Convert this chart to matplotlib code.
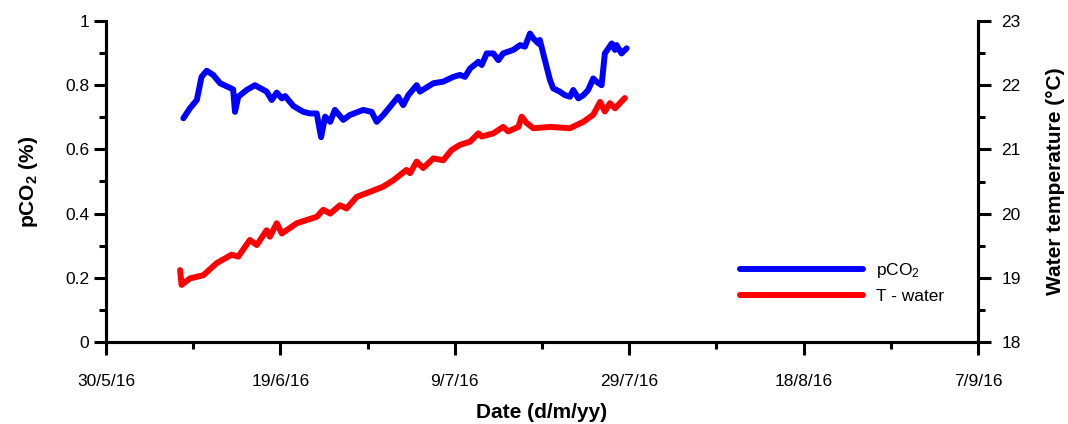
import matplotlib
matplotlib.use("Agg")
import matplotlib.pyplot as plt
import matplotlib.dates as mdates
from matplotlib.ticker import FuncFormatter, MultipleLocator
import pandas as pd

plt.rcParams['font.family'] = ['Liberation Sans', 'DejaVu Sans']
plt.rcParams['mathtext.default'] = 'regular'

# pCO2 (%) record
pco2_dates = [
    '2016-06-07 21:00', '2016-06-08 15:00', '2016-06-09 10:00', '2016-06-09 23:00',
    '2016-06-10 13:00', '2016-06-11 07:00', '2016-06-12 02:00', '2016-06-13 14:00',
    '2016-06-13 19:00', '2016-06-14 04:00', '2016-06-15 03:00', '2016-06-16 02:00',
    '2016-06-17 10:00', '2016-06-18 00:00', '2016-06-18 14:00', '2016-06-19 04:00',
    '2016-06-19 13:00', '2016-06-20 12:00', '2016-06-21 15:00', '2016-06-22 09:00',
    '2016-06-23 04:00', '2016-06-23 16:00', '2016-06-24 03:00', '2016-06-24 17:00',
    '2016-06-25 06:00', '2016-06-26 05:00', '2016-06-26 23:00', '2016-06-28 12:00',
    '2016-06-29 11:00', '2016-06-30 01:00', '2016-06-30 19:00', '2016-07-01 14:00',
    '2016-07-02 12:00', '2016-07-03 02:00', '2016-07-03 16:00', '2016-07-04 15:00',
    '2016-07-05 00:00', '2016-07-06 13:00', '2016-07-07 16:00', '2016-07-08 20:00',
    '2016-07-09 14:00', '2016-07-10 04:00', '2016-07-10 18:00', '2016-07-11 17:00',
    '2016-07-12 02:00', '2016-07-12 16:00', '2016-07-13 10:00', '2016-07-14 00:00',
    '2016-07-14 13:00', '2016-07-15 17:00', '2016-07-16 12:00', '2016-07-17 01:00',
    '2016-07-17 15:00', '2016-07-18 00:00', '2016-07-18 14:00', '2016-07-18 18:00',
    '2016-07-19 08:00', '2016-07-19 22:00', '2016-07-20 07:00', '2016-07-21 01:00',
    '2016-07-21 15:00', '2016-07-22 05:00', '2016-07-22 14:00', '2016-07-23 04:00',
    '2016-07-23 18:00', '2016-07-24 07:00', '2016-07-24 21:00', '2016-07-25 06:00',
    '2016-07-25 20:00', '2016-07-26 05:00', '2016-07-27 00:00', '2016-07-27 09:00',
    '2016-07-27 13:00', '2016-07-28 03:00', '2016-07-28 17:00',
]
pco2_values = [
    0.697, 0.728, 0.754, 0.826, 0.845, 0.832, 0.806, 0.787, 0.717, 0.764,
    0.785, 0.800, 0.780, 0.754, 0.777, 0.759, 0.766, 0.735, 0.717, 0.712,
    0.712, 0.638, 0.702, 0.686, 0.723, 0.692, 0.707, 0.723, 0.717, 0.686,
    0.707, 0.733, 0.764, 0.738, 0.769, 0.800, 0.780, 0.806, 0.811, 0.826,
    0.832, 0.826, 0.852, 0.873, 0.863, 0.899, 0.899, 0.878, 0.899, 0.910,
    0.925, 0.920, 0.961, 0.946, 0.930, 0.941, 0.878, 0.816, 0.790, 0.780,
    0.769, 0.764, 0.785, 0.759, 0.769, 0.785, 0.821, 0.811, 0.800, 0.899,
    0.930, 0.910, 0.925, 0.899, 0.915,
]

# water temperature (deg C) record
temp_dates = [
    '2016-06-07 12:00', '2016-06-07 16:00', '2016-06-08 15:00', '2016-06-10 04:00',
    '2016-06-11 17:00', '2016-06-13 10:00', '2016-06-14 04:00', '2016-06-15 12:00',
    '2016-06-16 07:00', '2016-06-17 10:00', '2016-06-17 19:00', '2016-06-18 14:00',
    '2016-06-19 04:00', '2016-06-20 21:00', '2016-06-23 04:00', '2016-06-23 22:00',
    '2016-06-24 17:00', '2016-06-25 20:00', '2016-06-26 14:00', '2016-06-27 18:00',
    '2016-06-29 07:00', '2016-06-30 19:00', '2016-07-01 23:00', '2016-07-03 11:00',
    '2016-07-03 21:00', '2016-07-04 15:00', '2016-07-05 09:00', '2016-07-06 13:00',
    '2016-07-07 16:00', '2016-07-08 15:00', '2016-07-09 14:00', '2016-07-10 18:00',
    '2016-07-11 17:00', '2016-07-12 02:00', '2016-07-13 10:00', '2016-07-14 13:00',
    '2016-07-15 03:00', '2016-07-16 07:00', '2016-07-16 16:00', '2016-07-17 06:00',
    '2016-07-18 00:00', '2016-07-19 22:00', '2016-07-22 05:00', '2016-07-23 18:00',
    '2016-07-24 21:00', '2016-07-25 16:00', '2016-07-26 05:00', '2016-07-26 19:00',
    '2016-07-27 09:00', '2016-07-28 12:00',
]
temp_values = [
    19.12, 18.89, 18.99, 19.04, 19.23, 19.36, 19.33, 19.59, 19.51, 19.74,
    19.64, 19.85, 19.69, 19.85, 19.95, 20.06, 20.00, 20.13, 20.08, 20.26,
    20.34, 20.42, 20.52, 20.68, 20.63, 20.81, 20.71, 20.86, 20.83, 20.99,
    21.07, 21.12, 21.25, 21.20, 21.25, 21.35, 21.28, 21.35, 21.51, 21.41,
    21.33, 21.35, 21.33, 21.43, 21.54, 21.74, 21.59, 21.72, 21.64, 21.80,
]

x_start, x_end = '2016-05-30', '2016-09-07'

fig = plt.figure(figsize=(10.68, 4.24), dpi=100)
ax = fig.add_axes([106 / 1068, 1 - 342 / 424, 872 / 1068, 321 / 424])
ax2 = ax.twinx()

l1, = ax.plot(pd.to_datetime(pco2_dates), pco2_values, color='#0000ff', lw=4.3,
              solid_capstyle='round', solid_joinstyle='round', label=r'pCO$_2$')
l2, = ax2.plot(pd.to_datetime(temp_dates), temp_values, color='#ff0000', lw=4.3,
               solid_capstyle='round', solid_joinstyle='round', label='T - water')

ax.set_xlim(pd.Timestamp(x_start), pd.Timestamp(x_end))
ax.set_ylim(0, 1)
ax2.set_ylim(18, 23)

ticks = pd.date_range(x_start, x_end, freq='20D')
minor = pd.date_range(pd.Timestamp(x_start) + pd.Timedelta(days=10), x_end, freq='20D')
ax.set_xticks(ticks)
ax.set_xticks(minor, minor=True)
ax.xaxis.set_major_formatter(FuncFormatter(
    lambda v, p: (lambda d: f"{d.day}/{d.month}/{d.strftime('%y')}")(mdates.num2date(v))))

ax.yaxis.set_major_locator(MultipleLocator(0.2))
ax.yaxis.set_minor_locator(MultipleLocator(0.1))
ax.yaxis.set_major_formatter(FuncFormatter(lambda v, p: f"{v:g}"))
ax2.yaxis.set_major_locator(MultipleLocator(1))
ax2.yaxis.set_minor_locator(MultipleLocator(0.5))

for a in (ax, ax2):
    a.spines['top'].set_visible(False)
    for s in a.spines.values():
        s.set_linewidth(2.2)
    a.tick_params(which='major', direction='out', length=9, width=2.2, labelsize=12.5)
    a.tick_params(which='minor', direction='out', length=5, width=2.2)
ax.tick_params(axis='x', which='major', pad=14)
ax.tick_params(axis='y', which='major', pad=3)
ax2.tick_params(axis='y', which='major', pad=8)

ax.set_xlabel('Date (d/m/yy)', fontsize=15, fontweight='bold', labelpad=10)
ax.set_ylabel(r'pCO$_2$ (%)', fontsize=15, fontweight='bold', labelpad=18)
ax2.set_ylabel('Water temperature (°C)', fontsize=15, fontweight='bold', labelpad=18)

ax2.legend(handles=[l1, l2], loc='upper left', bbox_to_anchor=(728 / 1068, 1 - 249 / 424),
           bbox_transform=fig.transFigure, frameon=False, fontsize=12.5,
           handlelength=7.1, handletextpad=0.7, labelspacing=0.5, borderpad=0.2)

fig.savefig('out.png', dpi=100)
